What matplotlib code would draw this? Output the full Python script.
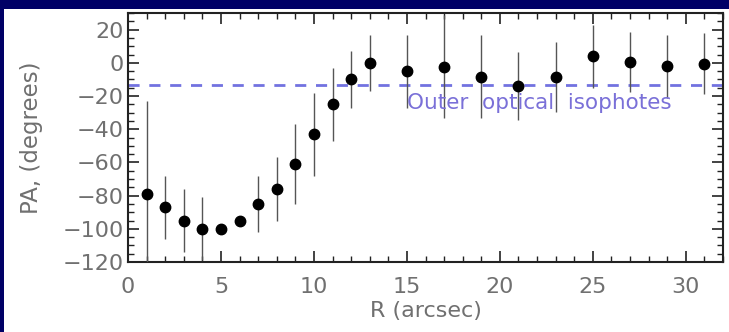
import numpy as np
import matplotlib
matplotlib.use("Agg")
import matplotlib.pyplot as plt
from matplotlib.patches import Rectangle
from matplotlib.ticker import MultipleLocator

# radius (arcsec), position angle (deg) and its error
r = [1, 2, 3, 4, 5, 6, 7, 8, 9, 10, 11, 12, 13, 15, 17, 19, 21, 23, 25, 27, 29, 31]
pa = [-79, -87, -95, -100, -100, -95, -85, -76, -61, -43, -25, -10, 0,
      -5, -2.5, -8.5, -14, -8.5, 4, 0.5, -2, -0.5]
pa_err = [56, 19, 19, 19, 0, 0, 17, 19, 24, 25, 22, 17, 17,
          22, 31, 25, 20.5, 21, 19, 18, 19, 18.5]
outer_pa = -13.6

gray = '#707070'

fig = plt.figure(figsize=(7.29, 3.32), dpi=100)
fig.patch.set_facecolor('#000066')
# white panel inside the navy frame
fig.patches.append(Rectangle((4 / 729, 0), 1, 1 - 9 / 332, transform=fig.transFigure,
                             facecolor='white', edgecolor='none', zorder=0))

ax = fig.add_axes([128 / 729, 1 - 262 / 332, (723 - 128) / 729, (262 - 13) / 332])
ax.set_zorder(2)
ax.errorbar(r, pa, yerr=pa_err, fmt='o', color='black', ms=7.5,
            ecolor='#555555', elinewidth=1.0, capsize=0, zorder=3)
ax.axhline(outer_pa, color='#7272e0', lw=2, ls=(0, (4, 3.5)), zorder=2)
ax.text(15, -24.5, 'Outer  optical  isophotes', color='#7a70d8', fontsize=15.5,
        va='center', ha='left')

ax.set_xlim(0, 32)
ax.set_ylim(-120, 30)
ax.xaxis.set_major_locator(MultipleLocator(5))
ax.xaxis.set_minor_locator(MultipleLocator(1))
ax.yaxis.set_major_locator(MultipleLocator(20))
ax.yaxis.set_minor_locator(MultipleLocator(5))
ax.tick_params(which='both', direction='in', top=True, right=True,
               labelcolor=gray, labelsize=16, color='#222222')
ax.tick_params(which='major', length=8, width=1.2)
ax.tick_params(which='minor', length=4, width=1.0)
ax.tick_params(axis='x', pad=11)
ax.tick_params(axis='y', pad=3)
for s in ax.spines.values():
    s.set_linewidth(1.5)
    s.set_color('#222222')

ax.set_xlabel('R (arcsec)', color=gray, fontsize=16, labelpad=3)
ax.set_ylabel('PA, (degrees)', color=gray, fontsize=16.5, labelpad=14)

fig.savefig('out.png', dpi=100, facecolor=fig.get_facecolor())
